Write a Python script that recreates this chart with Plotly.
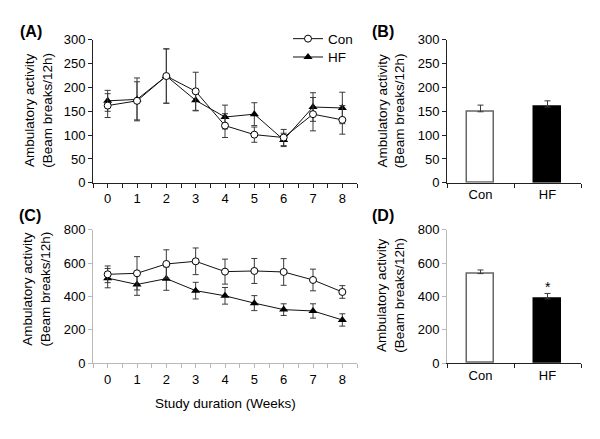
import plotly.graph_objects as go

# ---------------- data ----------------
weeks = [0, 1, 2, 3, 4, 5, 6, 7, 8]

# Panel A (beam breaks / 12h)
a_con = [162, 172, 224, 192, 120, 101, 95, 144, 132]
a_con_err = [25, 40, 57, 40, 25, 16, 17, 35, 30]
a_hf = [172, 175, 224, 173, 138, 144, 90, 159, 157]
a_hf_err = [22, 45, 57, 22, 25, 24, 14, 30, 33]

# Panel C
c_con = [533, 539, 595, 611, 549, 553, 547, 499, 427]
c_con_err = [50, 100, 85, 80, 75, 75, 80, 65, 38]
c_hf = [510, 472, 507, 435, 404, 360, 321, 313, 259]
c_hf_err = [58, 65, 70, 50, 50, 45, 35, 43, 37]

# Panels B and D (group means)
groups = ["Con", "HF"]
b_vals = [149, 159]
b_err = [14, 13]
d_vals = [537, 385]
d_err = [22, 33]

panel_labels = ["(A)", "(B)", "(C)", "(D)"]
ytitle = "Ambulatory activity<br>(Beam breaks/12h)"
xtitle = "Study duration (Weeks)"

W, H = 600, 439
FONT = "Arial, 'Liberation Sans', sans-serif"
ERRC = "#3a3a3a"


def px_x(p):
    return p / W


def px_y(p):
    return 1 - p / H


fig = go.Figure()

# line panels
for (con, cerr, hf, herr, xa, ya, show) in [
    (a_con, a_con_err, a_hf, a_hf_err, "x", "y", True),
    (c_con, c_con_err, c_hf, c_hf_err, "x3", "y3", False),
]:
    fig.add_trace(go.Scatter(
        x=weeks, y=hf, name="HF", mode="lines+markers",
        line=dict(color="#111111", width=1),
        marker=dict(symbol="triangle-up", size=8, color="black"),
        error_y=dict(type="data", array=herr, color=ERRC, thickness=1, width=3),
        xaxis=xa, yaxis=ya, showlegend=show, legend="legend2"))
    fig.add_trace(go.Scatter(
        x=weeks, y=con, name="Con", mode="lines+markers",
        line=dict(color="#111111", width=1),
        marker=dict(symbol="circle", size=7, color="white",
                    line=dict(color="black", width=1)),
        error_y=dict(type="data", array=cerr, color=ERRC, thickness=1, width=3),
        xaxis=xa, yaxis=ya, showlegend=show, legend="legend"))

# bar panels
for vals, err, xa, ya in [(b_vals, b_err, "x2", "y2"), (d_vals, d_err, "x4", "y4")]:
    fig.add_trace(go.Bar(
        x=[0, 1], y=vals, width=0.4,
        marker=dict(color=["white", "black"],
                    line=dict(color=["#666666", "black"], width=1.5)),
        error_y=dict(type="data", array=err, arrayminus=[0, 0],
                     symmetric=False, color=ERRC, thickness=1, width=3),
        xaxis=xa, yaxis=ya, showlegend=False))

# domains
xl = [px_x(93), px_x(357)]
xr = [px_x(447), px_x(581)]
ytop = [px_y(182), px_y(34)]
ybot = [px_y(368.7), px_y(230.7)]

tickfont = dict(family=FONT, size=13, color="black")


def line_xaxis(dom, anchor, color):
    return dict(domain=dom, anchor=anchor, range=[-0.5, 8.5],
                tickvals=weeks, ticks="outside", ticklen=4, tickcolor=color,
                showline=True, linecolor=color, linewidth=1,
                showgrid=False, zeroline=False, tickfont=tickfont,
                minor=dict(dtick=0.5, ticks="outside", ticklen=4,
                           tickcolor=color, showgrid=False))


def bar_xaxis(dom, anchor, color):
    return dict(domain=dom, anchor=anchor, range=[-0.5, 1.5],
                tickvals=[0, 1], ticktext=groups, ticks="",
                showline=True, linecolor=color, linewidth=1,
                showgrid=False, zeroline=False, tickfont=tickfont,
                minor=dict(tickvals=[-0.5, 0.5, 1.5], ticks="outside",
                           ticklen=4, tickcolor=color, showgrid=False))


def yaxis(dom, anchor, rng, dt, color):
    return dict(domain=dom, anchor=anchor, range=rng, dtick=dt,
                ticks="outside", ticklen=4, tickcolor=color,
                showline=True, linecolor=color, linewidth=1,
                showgrid=False, zeroline=False, tickfont=tickfont)


DARK = "#222222"
LIGHT = "#b8b8b8"


def leg(ypx):
    return dict(x=px_x(288), y=px_y(ypx), xanchor="left", yanchor="middle",
                bgcolor="rgba(0,0,0,0)", font=dict(family=FONT, size=13.5),
                itemwidth=30)


fig.update_layout(
    width=W, height=H,
    margin=dict(l=0, r=0, t=0, b=0),
    paper_bgcolor="white", plot_bgcolor="white",
    font=dict(family=FONT, size=13, color="black"),
    xaxis=line_xaxis(xl, "y", DARK),
    yaxis=yaxis(ytop, "x", [0, 300], 50, DARK),
    xaxis2=bar_xaxis(xr, "y2", DARK),
    yaxis2=yaxis(ytop, "x2", [0, 300], 50, DARK),
    xaxis3=line_xaxis(xl, "y3", LIGHT),
    yaxis3=yaxis(ybot, "x3", [0, 800], 200, LIGHT),
    xaxis4=bar_xaxis(xr, "y4", DARK),
    yaxis4=yaxis(ybot, "x4", [0, 800], 200, LIGHT),
    legend=leg(33),
    legend2=leg(52),
    bargap=0,
)

annos = []
# panel labels
for lab, (x, y) in zip(panel_labels, [(18, 25), (370, 25), (17, 216), (370, 216)]):
    annos.append(dict(text="<b>%s</b>" % lab, x=px_x(x), y=px_y(y),
                      xref="paper", yref="paper", xanchor="left", yanchor="middle",
                      showarrow=False, font=dict(family=FONT, size=16, color="black")))
# y titles
for (x, y) in [(38.5, 107), (391, 107), (36.5, 292), (391, 298)]:
    annos.append(dict(text=ytitle, x=px_x(x), y=px_y(y), xref="paper", yref="paper",
                      xanchor="center", yanchor="middle", textangle=-90,
                      showarrow=False, font=dict(family=FONT, size=13.5, color="black")))
# x title
annos.append(dict(text=xtitle, x=px_x(225), y=px_y(411), xref="paper", yref="paper",
                  xanchor="center", yanchor="middle", showarrow=False,
                  font=dict(family=FONT, size=13.5, color="black")))
# significance star on HF bar in D
annos.append(dict(text="*", x=1, y=d_vals[1] + d_err[1], xref="x4", yref="y4",
                  xanchor="center", yanchor="bottom", showarrow=False, yshift=-4,
                  font=dict(family=FONT, size=14, color="black")))
fig.update_layout(annotations=annos)

fig.write_html("out.html",
               config={"displayModeBar": False},
               post_script="document.body.style.margin='0px';"
                           "document.body.style.overflow='hidden';")
